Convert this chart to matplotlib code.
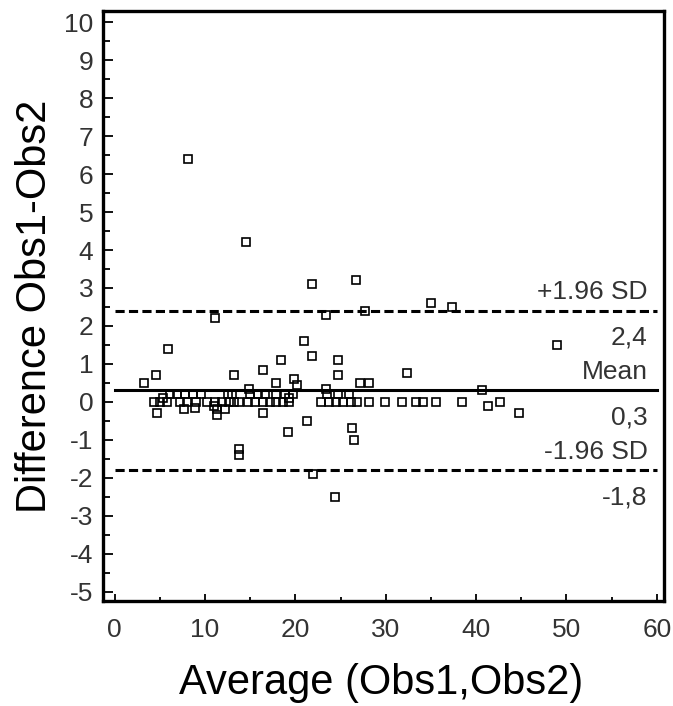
import matplotlib
matplotlib.use("Agg")
import matplotlib.pyplot as plt
from matplotlib.ticker import MultipleLocator

plt.rcParams["font.family"] = ["Liberation Sans", "DejaVu Sans"]
plt.rcParams["axes.unicode_minus"] = False

# Bland-Altman data
avg_values = [
    8.1, 14.5, 21.8, 26.7, 23.4, 27.7, 35.0, 37.3, 11.1, 5.9, 49.0, 21.0,
    21.8, 18.4, 24.7, 16.4, 24.7, 32.4, 13.2, 4.6, 3.2, 17.8, 19.8, 20.2,
    27.1, 28.1, 14.9, 23.4, 40.7, 5.4, 19.3,
    # row near +0.2
    6.1, 6.9, 7.75, 8.7, 9.5, 12.5, 13.0, 15.0, 15.9, 16.6, 17.9, 18.8,
    19.7, 23.5, 24.7, 25.9,
    # row at 0
    4.35, 5.0, 5.8, 7.2, 8.05, 9.05, 10.2, 11.1, 11.9, 12.7, 13.2, 13.8,
    14.8, 15.5, 16.4, 17.2, 17.9, 18.6, 19.3, 22.8, 23.7, 24.5, 25.3, 26.1,
    26.8, 28.2, 29.9, 31.8, 33.4, 34.1, 35.6, 38.4, 42.7,
    # below zero
    4.7, 7.7, 8.9, 11.0, 11.3, 11.3, 12.2, 16.4, 21.3, 19.2, 26.3, 26.5,
    22.0, 24.4, 13.8, 13.8, 41.3, 44.7,
]
diff_values = [
    6.4, 4.2, 3.1, 3.2, 2.3, 2.4, 2.6, 2.5, 2.2, 1.4, 1.5, 1.6,
    1.2, 1.1, 1.1, 0.85, 0.7, 0.75, 0.7, 0.7, 0.5, 0.5, 0.6, 0.45,
    0.5, 0.5, 0.35, 0.35, 0.3, 0.1, 0.1,
    0.2, 0.2, 0.2, 0.2, 0.2, 0.2, 0.2, 0.2, 0.2, 0.2, 0.2, 0.2,
    0.2, 0.2, 0.2, 0.2,
    0, 0, 0, 0, 0, 0, 0, 0, 0, 0, 0, 0,
    0, 0, 0, 0, 0, 0, 0, 0, 0, 0, 0, 0,
    0, 0, 0, 0, 0, 0, 0, 0, 0,
    -0.3, -0.2, -0.15, -0.1, -0.2, -0.35, -0.2, -0.3, -0.5, -0.8, -0.7, -1.0,
    -1.9, -2.5, -1.25, -1.4, -0.1, -0.3,
]

mean_diff = 0.3
upper_loa = 2.4
lower_loa = -1.8
line_labels = ["+1.96 SD", "Mean", "-1.96 SD"]
value_labels = ["2,4", "0,3", "-1,8"]

fig = plt.figure(figsize=(6.73, 7.06), dpi=100)
ax = fig.add_axes([0.153, 0.1487, 0.8336, 0.8357])

ax.plot(avg_values, diff_values, linestyle="none", marker="s", markersize=5.4,
        markerfacecolor="none", markeredgecolor="black", markeredgewidth=1.2, zorder=3)

ax.plot([0, 60], [mean_diff, mean_diff], color="black", lw=2.2, zorder=2)
for level in (upper_loa, lower_loa):
    ax.plot([0, 60], [level, level], color="black", lw=2.2, dashes=(3, 1.4), zorder=2)

text_color = "#333333"
for level, name, value in zip([upper_loa, mean_diff, lower_loa], line_labels, value_labels):
    ax.annotate(name, xy=(59.0, level), xytext=(0, 8.3), textcoords="offset points",
                ha="right", va="baseline", fontsize=19, color=text_color)
    ax.annotate(value, xy=(59.0, level), xytext=(0, -24.5), textcoords="offset points",
                ha="right", va="baseline", fontsize=19, color=text_color)

ax.set_xlim(-1.3, 60.8)
ax.set_ylim(-5.25, 10.3)
ax.xaxis.set_major_locator(MultipleLocator(10))
ax.xaxis.set_minor_locator(MultipleLocator(5))
ax.yaxis.set_major_locator(MultipleLocator(1))
ax.yaxis.set_minor_locator(MultipleLocator(0.5))

ax.tick_params(axis="both", which="both", direction="in", width=1.3, colors="black",
               labelcolor=text_color, labelsize=19)
ax.tick_params(axis="y", which="major", length=7.5, pad=7)
ax.tick_params(axis="y", which="minor", length=5)
ax.tick_params(axis="x", which="major", length=5, pad=12)
ax.tick_params(axis="x", which="minor", length=3)

for spine in ax.spines.values():
    spine.set_linewidth(2.4)

ax.set_xlabel("Average (Obs1,Obs2)", fontsize=30)
ax.set_ylabel("Difference Obs1-Obs2", fontsize=30)
ax.xaxis.set_label_coords(0.495, -0.139)
ax.yaxis.set_label_coords(-0.121, 0.5)
ax.xaxis.label.set_va("center")
ax.yaxis.label.set_va("center")

fig.savefig("out.png", dpi=100)
